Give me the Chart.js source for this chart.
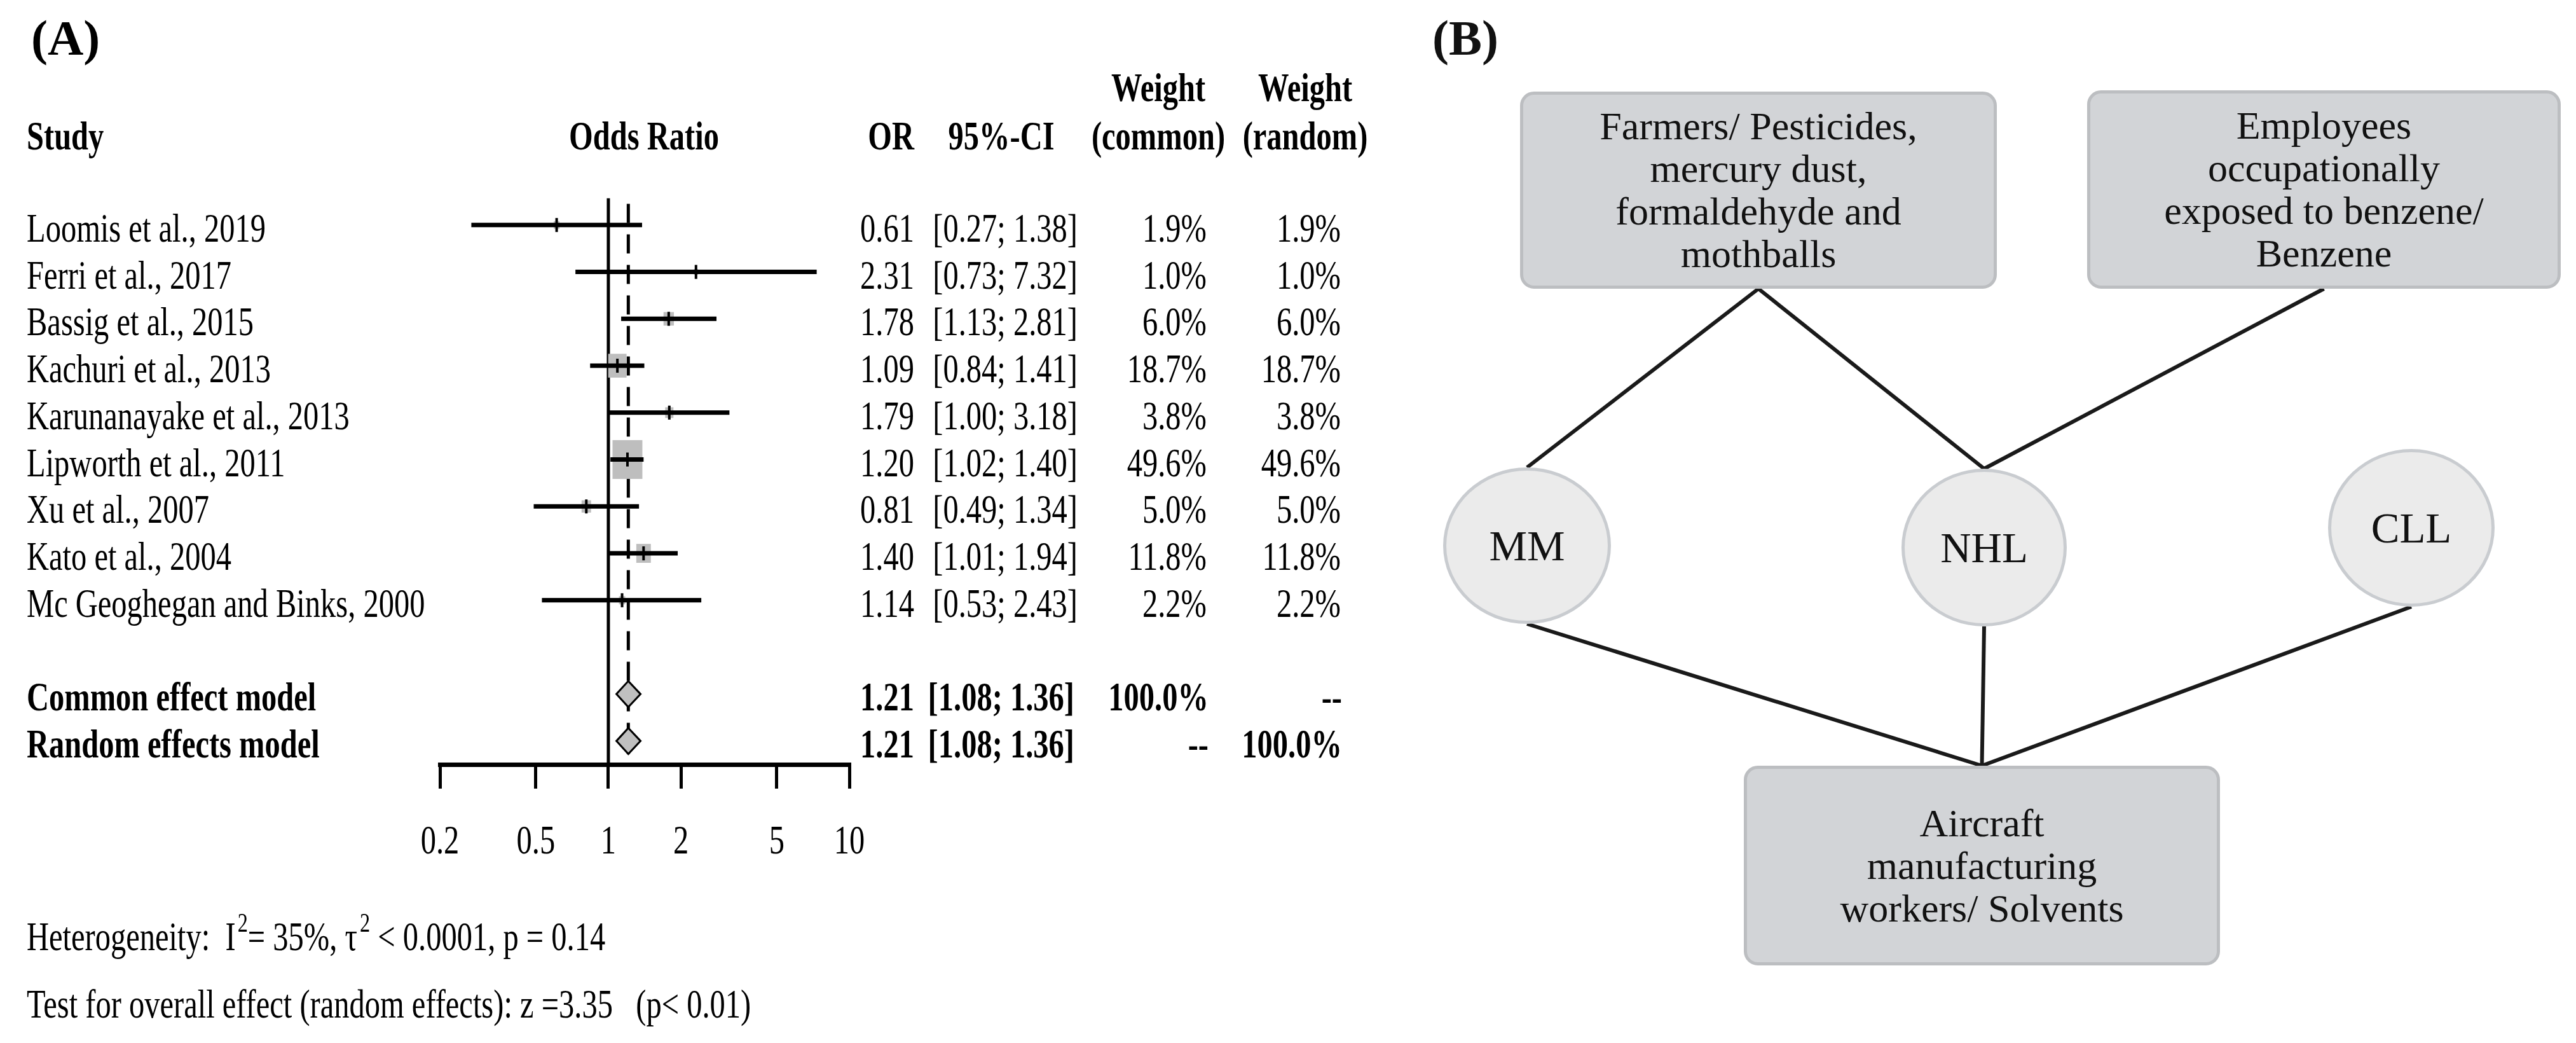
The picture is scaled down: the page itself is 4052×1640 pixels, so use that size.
<!DOCTYPE html>
<html>
<head>
<meta charset="utf-8">
<script src="https://cdn.jsdelivr.net/npm/chart.js@4.4.1/dist/chart.umd.min.js"></script>
<style>
  html, body { margin: 0; padding: 0; background: #fff; }
  #page { position: relative; width: 4052px; height: 1640px; overflow: hidden;
          font-family: "Liberation Serif", "Times New Roman", serif; color: #111; }
  #forestWrap { position: absolute; left: 0; top: 0; width: 2250px; height: 1640px; }
  #links { position: absolute; left: 0; top: 0; }
  .node { position: absolute; box-sizing: border-box; display: flex; align-items: center;
          justify-content: center; text-align: center; white-space: pre-line;
          font-family: "Liberation Serif", "Times New Roman", serif; color: #111; }
  .box { background: #d2d4d7; border: 5px solid #bcbec1; border-radius: 22px;
         font-size: 62px; line-height: 67px; }
  .circle { background: #ebebeb; border: 5px solid #c9ccd0; border-radius: 50%; font-size: 67px; }
  .panel-label { position: absolute; font-weight: bold; font-size: 78px; line-height: 1; }
</style>
</head>
<body>
<div id="page">
  <div id="forestWrap"><canvas id="forest"></canvas></div>
  <svg id="links" width="4052" height="1640"></svg>
  <div class="panel-label" style="left:2253px; top:21px;">(B)</div>
</div>
<script>
// ---- forest plot data ----
const studies = [
  'Loomis et al., 2019', 'Ferri et al., 2017', 'Bassig et al., 2015', 'Kachuri et al., 2013',
  'Karunanayake et al., 2013', 'Lipworth et al., 2011', 'Xu et al., 2007', 'Kato et al., 2004',
  'Mc Geoghegan and Binks, 2000'
];
const oddsRatio = [0.61, 2.31, 1.78, 1.09, 1.79, 1.20, 0.81, 1.40, 1.14];
const ciLower   = [0.27, 0.73, 1.13, 0.84, 1.00, 1.02, 0.49, 1.01, 0.53];
const ciUpper   = [1.38, 7.32, 2.81, 1.41, 3.18, 1.40, 1.34, 1.94, 2.43];
const weightCommon = [1.9, 1.0, 6.0, 18.7, 3.8, 49.6, 5.0, 11.8, 2.2];
const weightRandom = [1.9, 1.0, 6.0, 18.7, 3.8, 49.6, 5.0, 11.8, 2.2];

const pooledLabels = ['Common effect model', 'Random effects model'];
const pooledOR     = [1.21, 1.21];
const pooledLower  = [1.08, 1.08];
const pooledUpper  = [1.36, 1.36];
const pooledWeightCommon = [100.0, null];
const pooledWeightRandom = [null, 100.0];

const xTicks = [0.2, 0.5, 1, 2, 5, 10];

const hetI2 = '35%';
const hetTau2 = '< 0.0001';
const hetP = '0.14';
const overallZ = '3.35';
const overallP = '< 0.01';

// ---- diagram data ----
const exposures = [
  'Farmers/ Pesticides,\nmercury dust,\nformaldehyde and\nmothballs',
  'Employees\noccupationally\nexposed to benzene/\nBenzene',
  'Aircraft\nmanufacturing\nworkers/ Solvents'
];
const cancers = ['MM', 'NHL', 'CLL'];
const links = [[0, 0], [0, 1], [1, 1], [2, 0], [2, 1], [2, 2]]; // [exposure, cancer]

// ---- layout ----
const SERIF = '"Liberation Serif", "Times New Roman", serif';
const SX = 0.77;          // the forest panel is horizontally squeezed
const FS = 63;
const COL = { study: 42, orRight: 1438, ciRight: 1695, ciHead: 1575,
              wcRight: 1898, wcHead: 1822, wrRight: 2109, wrHead: 2053, forestHead: 1013 };
const poolRow = j => studies.length + 1 + j;
const yMax = poolRow(pooledLabels.length - 1) + 0.5;

function drawText(ctx, str, x, y, align, bold, size, sx) {
  ctx.save();
  ctx.translate(x, y);
  ctx.scale(sx, 1);
  ctx.font = (bold ? 'bold ' : '') + size + 'px ' + SERIF;
  ctx.textAlign = align;
  ctx.textBaseline = 'alphabetic';
  ctx.fillStyle = '#000';
  ctx.fillText(str, 0, 0);
  const w = ctx.measureText(str).width * sx;
  ctx.restore();
  return w;
}

const fmtPct = v => v === null ? '--' : v.toFixed(1) + '%';
const fmtCI = (lo, hi) => '[' + lo.toFixed(2) + '; ' + hi.toFixed(2) + ']';

const ciSets = studies.map((s, i) => ({
  type: 'line',
  label: s,
  data: [{ x: ciLower[i], y: i }, { x: ciUpper[i], y: i }],
  borderColor: '#000',
  borderWidth: 7,
  borderCapStyle: 'butt',
  pointRadius: 0,
  order: 2
}));

const nullLine = {
  type: 'line', label: 'null',
  data: [{ x: 1, y: -0.57 }, { x: 1, y: yMax }],
  borderColor: '#000', borderWidth: 5, pointRadius: 0, order: 6
};
const pooledLine = {
  type: 'line', label: 'pooled',
  data: [{ x: pooledOR[0], y: -0.45 }, { x: pooledOR[0], y: poolRow(1) + 0.28 }],
  borderColor: '#000', borderWidth: 5, borderDash: [30, 18], pointRadius: 0, order: 5
};
const estimateSet = {
  type: 'scatter', label: 'OR',
  data: studies.map((s, i) => ({ x: oddsRatio[i], y: i })),
  pointStyle: 'line', rotation: 90, pointRadius: 11,
  borderColor: '#000', borderWidth: 4, order: 1
};

const datasets = [nullLine, pooledLine, ...ciSets, estimateSet];
const pooledLineIndex = 1;

const forestDecor = {
  id: 'forestDecor',
  afterDatasetDraw(chart, args) {
    if (args.index !== pooledLineIndex) return;
    const { ctx, scales: { x, y } } = chart;
    ctx.save();
    ctx.fillStyle = '#bebebe';
    studies.forEach((s, i) => {
      const h = 8.66 * Math.sqrt(weightRandom[i]);
      const w = h * SX;
      ctx.fillRect(x.getPixelForValue(oddsRatio[i]) - w / 2, y.getPixelForValue(i) - h / 2, w, h);
    });
    ctx.restore();
  },
  afterDatasetsDraw(chart) {
    const { ctx, scales: { x, y } } = chart;
    ctx.save();
    pooledLabels.forEach((lab, j) => {
      const cy = y.getPixelForValue(poolRow(j));
      const xl = x.getPixelForValue(pooledLower[j]);
      const xc = x.getPixelForValue(pooledOR[j]);
      const xh = x.getPixelForValue(pooledUpper[j]);
      ctx.beginPath();
      ctx.moveTo(xl, cy);
      ctx.lineTo(xc, cy - 20.5);
      ctx.lineTo(xh, cy);
      ctx.lineTo(xc, cy + 20.5);
      ctx.closePath();
      ctx.fillStyle = '#c0c0c0';
      ctx.fill();
      ctx.lineWidth = 3;
      ctx.strokeStyle = '#000';
      ctx.stroke();
    });
    ctx.restore();
  },
  afterDraw(chart) {
    const { ctx, scales: { x, y } } = chart;
    // panel label
    drawText(ctx, '(A)', 49, 86, 'left', true, 78, 1);
    // headers
    drawText(ctx, 'Weight', COL.wcHead, 159, 'center', true, FS, SX);
    drawText(ctx, 'Weight', COL.wrHead, 159, 'center', true, FS, SX);
    drawText(ctx, 'Study', COL.study, 235, 'left', true, FS, SX);
    drawText(ctx, 'Odds Ratio', COL.forestHead, 235, 'center', true, FS, SX);
    drawText(ctx, 'OR', COL.orRight, 235, 'right', true, FS, SX);
    drawText(ctx, '95%-CI', COL.ciHead, 235, 'center', true, FS, SX);
    drawText(ctx, '(common)', COL.wcHead, 235, 'center', true, FS, SX);
    drawText(ctx, '(random)', COL.wrHead, 235, 'center', true, FS, SX);
    // study rows
    studies.forEach((s, i) => {
      const by = y.getPixelForValue(i) + 26;
      drawText(ctx, s, COL.study, by, 'left', false, FS, SX);
      drawText(ctx, oddsRatio[i].toFixed(2), COL.orRight, by, 'right', false, FS, SX);
      drawText(ctx, fmtCI(ciLower[i], ciUpper[i]), COL.ciRight, by, 'right', false, FS, SX);
      drawText(ctx, fmtPct(weightCommon[i]), COL.wcRight, by, 'right', false, FS, SX);
      drawText(ctx, fmtPct(weightRandom[i]), COL.wrRight, by, 'right', false, FS, SX);
    });
    // pooled rows
    pooledLabels.forEach((lab, j) => {
      const by = y.getPixelForValue(poolRow(j)) + 26;
      drawText(ctx, lab, COL.study, by, 'left', true, FS, SX);
      drawText(ctx, pooledOR[j].toFixed(2), COL.orRight, by, 'right', true, FS, SX);
      drawText(ctx, fmtCI(pooledLower[j], pooledUpper[j]), COL.ciRight - 5, by, 'right', true, FS, SX);
      drawText(ctx, fmtPct(pooledWeightCommon[j]), COL.wcRight + 3, by, 'right', true, FS, SX);
      drawText(ctx, fmtPct(pooledWeightRandom[j]), COL.wrRight + 2, by, 'right', true, FS, SX);
    });
    // tick labels
    xTicks.forEach(v => {
      drawText(ctx, String(v), x.getPixelForValue(v), 1342, 'center', false, FS, SX);
    });
    // heterogeneity line
    let cx = COL.study;
    const base = 1494;
    cx += drawText(ctx, 'Heterogeneity:  I', cx, base, 'left', false, FS, SX);
    cx += drawText(ctx, '2', cx + 3, base - 29, 'left', false, 42, SX) + 3;
    cx += drawText(ctx, '= ' + hetI2 + ', \u03c4', cx, base, 'left', false, FS, SX);
    cx += drawText(ctx, '2', cx + 4, base - 29, 'left', false, 42, SX) + 4;
    drawText(ctx, ' ' + hetTau2 + ', p = ' + hetP, cx, base, 'left', false, FS, SX);
    // overall effect line
    drawText(ctx, 'Test for overall effect (random effects): z =' + overallZ + '   (p' + overallP + ')',
      COL.study, 1600, 'left', false, FS, SX);
  }
};

new Chart(document.getElementById('forest'), {
  type: 'scatter',
  data: { datasets },
  options: {
    responsive: true,
    maintainAspectRatio: false,
    animation: false,
    events: [],
    layout: { autoPadding: false, padding: { left: 692, right: 914, top: 280, bottom: 438 } },
    plugins: { legend: { display: false }, tooltip: { enabled: false } },
    scales: {
      x: {
        type: 'logarithmic',
        min: xTicks[0],
        max: xTicks[xTicks.length - 1],
        afterBuildTicks: s => { s.ticks = xTicks.map(v => ({ value: v })); },
        afterFit: s => { s.height = 0; },
        ticks: { display: false },
        grid: { drawOnChartArea: false, drawTicks: true, tickLength: 38, lineWidth: 5, color: '#000' },
        border: { display: true, width: 7, color: '#000' }
      },
      y: { type: 'linear', reverse: true, min: -1, max: yMax, display: false }
    }
  },
  plugins: [forestDecor]
});

// ---- panel B diagram ----
const boxLayout = [
  { x: 2391, y: 144, w: 750, h: 310 },
  { x: 3283, y: 142, w: 745, h: 312 },
  { x: 2743, y: 1204, w: 749, h: 314 }
];
const circleLayout = [
  { cx: 2402, cy: 858, w: 264, h: 246 },
  { cx: 3121, cy: 861, w: 260, h: 248 },
  { cx: 3793, cy: 830, w: 262, h: 248 }
];

const page = document.getElementById('page');
const svg = document.getElementById('links');
const NS = 'http://www.w3.org/2000/svg';

links.forEach(([e, c]) => {
  const b = boxLayout[e], o = circleLayout[c];
  const bx = b.x + b.w / 2;
  let p1, p2;
  if (b.y + b.h < o.cy) { p1 = [bx, b.y + b.h]; p2 = [o.cx, o.cy - o.h / 2]; }
  else { p1 = [o.cx, o.cy + o.h / 2]; p2 = [bx, b.y]; }
  const ln = document.createElementNS(NS, 'line');
  ln.setAttribute('x1', p1[0]); ln.setAttribute('y1', p1[1]);
  ln.setAttribute('x2', p2[0]); ln.setAttribute('y2', p2[1]);
  ln.setAttribute('stroke', '#1a1a1a');
  ln.setAttribute('stroke-width', 6);
  svg.appendChild(ln);
});

exposures.forEach((txt, i) => {
  const b = boxLayout[i];
  const d = document.createElement('div');
  d.className = 'node box';
  d.style.cssText = `left:${b.x}px;top:${b.y}px;width:${b.w}px;height:${b.h}px;`;
  d.textContent = txt;
  page.appendChild(d);
});

cancers.forEach((txt, i) => {
  const o = circleLayout[i];
  const d = document.createElement('div');
  d.className = 'node circle';
  d.style.cssText = `left:${o.cx - o.w / 2}px;top:${o.cy - o.h / 2}px;width:${o.w}px;height:${o.h}px;`;
  d.textContent = txt;
  page.appendChild(d);
});
</script>
</body>
</html>
